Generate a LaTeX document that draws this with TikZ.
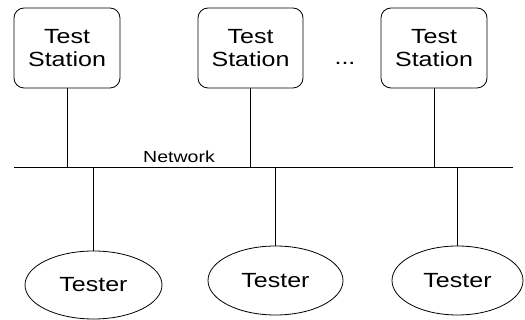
\documentclass[tikz,border=0pt]{standalone}
\usepackage{fontspec}
\setmainfont[FakeStretch=1.22]{Liberation Sans}
\usetikzlibrary{shapes.geometric}
\begin{document}
\begin{tikzpicture}[x=1pt,y=-1pt,
  line width=0.8pt,
  stationbox/.style={draw, rounded corners=10pt, minimum width=106pt, minimum height=80pt,
    align=center, inner sep=0pt, font=\fontsize{20.5}{23}\selectfont},
  testerbox/.style={draw, ellipse, inner sep=0pt, font=\fontsize{20.5}{23}\selectfont},
  link/.style={draw, line width=0.8pt}]
\useasboundingbox (0,0) rectangle (525,320);
\node[stationbox] (s1) at (67,48) {Test\\Station};
\node[stationbox, minimum width=105pt] (s2) at (250.5,48) {Test\\Station};
\node[stationbox] (s3) at (434,48) {Test\\Station};
\node[font=\fontsize{20.5}{23}\selectfont, anchor=base, inner sep=0pt] (dots) at (345,64.5) {...};
\coordinate (netL) at (14,167);
\coordinate (netR) at (513,167);
\draw[link] (netL) -- (netR);
\node[font=\fontsize{16}{18}\selectfont, anchor=base, inner sep=0pt] (net) at (179,162.3) {Network};
\node[testerbox, minimum width=137pt, minimum height=68pt] (t1) at (93.5,285) {Tester};
\node[testerbox, minimum width=135pt, minimum height=69pt] (t2) at (275.5,280.5) {Tester};
\node[testerbox, minimum width=131pt, minimum height=69pt] (t3) at (457.5,280.5) {Tester};
\draw[link] (s1.south) -- (s1.south |- netL);
\draw[link] (s2.south) -- (s2.south |- netL);
\draw[link] (s3.south) -- (s3.south |- netL);
\draw[link] (t1.north |- netL) -- (t1.north);
\draw[link] (t2.north |- netL) -- (t2.north);
\draw[link] (t3.north |- netL) -- (t3.north);
\end{tikzpicture}
\end{document}
